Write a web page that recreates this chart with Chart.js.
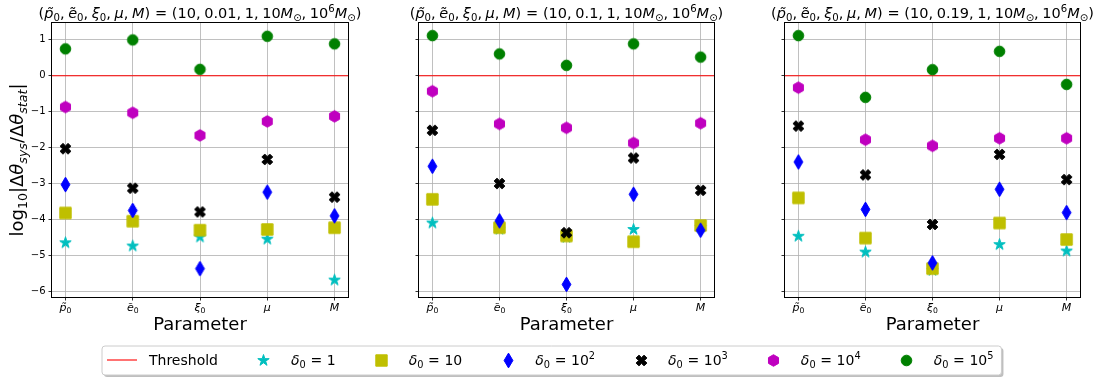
<!DOCTYPE html>
<html>
<head>
<meta charset="utf-8">
<script src="https://cdn.jsdelivr.net/npm/chart.js@4.4.1/dist/chart.umd.min.js"></script>
<style>
  html, body { margin: 0; padding: 0; background: #fff; }
  #wrap { position: relative; width: 1096px; height: 382px; overflow: hidden; background: #fff; }
  #wrap canvas { position: absolute; left: 0; top: 0; }
</style>
</head>
<body>
<div id="wrap">
  <canvas id="panel0" width="1096" height="382"></canvas>
  <canvas id="panel1" width="1096" height="382"></canvas>
  <canvas id="panel2" width="1096" height="382"></canvas>
  <canvas id="legend" width="1096" height="382"></canvas>
</div>
<script>
// ---- data ---------------------------------------------------------------
// Parameters on the x axis (symbol + subscript)
const PARAM_SYMBOLS = ['p\u0303', 'e\u0303', '\u03be', '\u03bc', 'M'];
const PARAM_SUBS = ['0', '0', '0', '', ''];
// Initial eccentricity of each panel
const E0_VALUES = [0.01, 0.1, 0.19];
const Y_TICKS = [-6, -5, -4, -3, -2, -1, 0, 1];
const THRESHOLD = 0;
const DELTA_EXPONENTS = [0, 1, 2, 3, 4, 5];

// log10 |dtheta_sys / dtheta_stat|; one row per panel, columns follow PARAM_SYMBOLS
const DELTA_1E0 = [
  [-4.65, -4.74, -4.49, -4.55, -5.69],
  [-4.10, -4.27, -4.50, -4.28, -4.22],
  [-4.47, -4.91, -5.42, -4.70, -4.88]
];
const DELTA_1E1 = [
  [-3.82, -4.05, -4.30, -4.28, -4.23],
  [-3.44, -4.23, -4.46, -4.62, -4.17],
  [-3.40, -4.52, -5.37, -4.10, -4.56]
];
const DELTA_1E2 = [
  [-3.03, -3.75, -5.37, -3.24, -3.90],
  [-2.52, -4.04, -5.81, -3.30, -4.30],
  [-2.40, -3.72, -5.21, -3.16, -3.81]
];
const DELTA_1E3 = [
  [-2.03, -3.13, -3.79, -2.33, -3.38],
  [-1.52, -3.00, -4.37, -2.29, -3.19],
  [-1.40, -2.76, -4.14, -2.19, -2.89]
];
const DELTA_1E4 = [
  [-0.87, -1.03, -1.66, -1.27, -1.13],
  [-0.43, -1.34, -1.45, -1.87, -1.32],
  [-0.33, -1.78, -1.95, -1.74, -1.74]
];
const DELTA_1E5 = [
  [0.75, 1.00, 0.18, 1.10, 0.89],
  [1.12, 0.61, 0.29, 0.89, 0.52],
  [1.12, -0.60, 0.17, 0.68, -0.24]
];

// ---- layout ---------------------------------------------------------------
const PANEL_X = [[52, 348], [419, 714], [785, 1080]];
const PANEL_TOP = 23, PANEL_BOTTOM = 297;
const X_MIN = -0.2, X_MAX = 4.2;
const Y_MIN = -6.16, Y_MAX = 1.47;
const FAMILY = '"DejaVu Sans", "Liberation Sans", sans-serif';

// ---- marker glyphs ---------------------------------------------------------
function markerCanvas(size, paint) {
  const c = document.createElement('canvas');
  c.width = size; c.height = size;
  const g = c.getContext('2d');
  g.translate(size / 2, size / 2);
  paint(g);
  return c;
}
function polygon(g, pts, color) {
  g.beginPath();
  pts.forEach(([x, y], i) => (i ? g.lineTo(x, y) : g.moveTo(x, y)));
  g.closePath();
  g.fillStyle = color; g.fill();
  g.lineWidth = 1; g.strokeStyle = color; g.lineJoin = 'miter'; g.stroke();
}
function starPts(R) {
  const r = R * 0.382, p = [];
  for (let i = 0; i < 10; i++) {
    const a = -Math.PI / 2 + i * Math.PI / 5, rr = i % 2 ? r : R;
    p.push([rr * Math.cos(a), rr * Math.sin(a)]);
  }
  return p;
}
function hexPts(R) {
  const p = [];
  for (let i = 0; i < 6; i++) {
    const a = -Math.PI / 2 + i * Math.PI / 3;
    p.push([R * Math.cos(a), R * Math.sin(a)]);
  }
  return p;
}
function xPts(a, t) {
  const plus = [[-t,-a],[t,-a],[t,-t],[a,-t],[a,t],[t,t],[t,a],[-t,a],[-t,t],[-a,t],[-a,-t],[-t,-t]];
  const c = Math.SQRT1_2;
  return plus.map(([x, y]) => [c * (x - y), c * (x + y)]);
}
const MARKERS = {
  star: color => markerCanvas(15, g => polygon(g, starPts(6.0), color)),
  square: color => markerCanvas(15, g => polygon(g, [[-5.7,-5.7],[5.7,-5.7],[5.7,5.7],[-5.7,5.7]], color)),
  thinDiamond: color => markerCanvas(17, g => polygon(g, [[0,-7.4],[4.4,0],[0,7.4],[-4.4,0]], color)),
  xFilled: color => markerCanvas(15, g => polygon(g, xPts(5.6, 2.0), color)),
  hexagon: color => markerCanvas(15, g => polygon(g, hexPts(5.8), color)),
  circle: color => markerCanvas(15, g => {
    g.beginPath(); g.arc(0, 0, 5.3, 0, Math.PI * 2);
    g.fillStyle = color; g.fill(); g.lineWidth = 1; g.strokeStyle = color; g.stroke();
  })
};

const SERIES = [
  { values: DELTA_1E0, color: '#00bfbf', marker: 'star' },
  { values: DELTA_1E1, color: '#bfbf00', marker: 'square' },
  { values: DELTA_1E2, color: '#0000ff', marker: 'thinDiamond' },
  { values: DELTA_1E3, color: '#000000', marker: 'xFilled' },
  { values: DELTA_1E4, color: '#bf00bf', marker: 'hexagon' },
  { values: DELTA_1E5, color: '#008000', marker: 'circle' }
].map((s, k) => Object.assign(s, { exponent: DELTA_EXPONENTS[k], glyph: MARKERS[s.marker](s.color) }));

// ---- math-style text -------------------------------------------------------
// segment kinds: r = upright, i = italic, sb = subscript, si = italic subscript, sp = superscript
function segFont(kind, size) {
  const small = kind === 'sb' || kind === 'si' || kind === 'sp';
  const it = kind === 'i' || kind === 'si';
  return (it ? 'italic ' : '') + (small ? size * 0.7 : size) + 'px ' + FAMILY;
}
function segShift(kind, size) {
  if (kind === 'sb' || kind === 'si') return size * 0.2;
  if (kind === 'sp') return -size * 0.4;
  return 0;
}
function richWidth(ctx, segs, size) {
  let w = 0;
  for (const [t, k] of segs) { ctx.font = segFont(k, size); w += ctx.measureText(t).width; }
  return w;
}
function drawRich(ctx, segs, x, y, size, align) {
  const w = richWidth(ctx, segs, size);
  let cx = align === 'center' ? x - w / 2 : align === 'right' ? x - w : x;
  ctx.save();
  ctx.fillStyle = '#000'; ctx.textAlign = 'left'; ctx.textBaseline = 'alphabetic';
  for (const [t, k] of segs) {
    ctx.font = segFont(k, size);
    ctx.fillText(t, cx, y + segShift(k, size));
    cx += ctx.measureText(t).width;
  }
  ctx.restore();
  return w;
}
function paramSegs(j) {
  const s = [[PARAM_SYMBOLS[j], 'i']];
  if (PARAM_SUBS[j]) s.push([PARAM_SUBS[j], 'sb']);
  return s;
}
function titleSegs(e0) {
  const s = [['(', 'r']];
  PARAM_SYMBOLS.forEach((_, j) => {
    if (j) s.push([',\u2005', 'r']);
    s.push(...paramSegs(j));
  });
  s.push([')\u2004=\u2004(10,\u2005' + e0 + ',\u20051,\u200510', 'r'], ['M', 'i'], ['\u2299', 'sb'],
         [',\u200510', 'r'], ['6', 'sp'], ['M', 'i'], ['\u2299', 'sb'], [')', 'r']);
  return s;
}
const Y_LABEL = [['log', 'r'], ['10', 'sb'], ['|\u0394', 'r'], ['\u03b8', 'i'], ['sys', 'si'],
                 ['/\u0394', 'r'], ['\u03b8', 'i'], ['stat', 'si'], ['|', 'r']];
const X_LABEL = [['Parameter', 'r']];
function deltaSegs(exp) {
  const s = [['\u03b4', 'i'], ['0', 'sb'], ['\u2004=\u2004' + (exp === 0 ? '1' : '10'), 'r']];
  if (exp > 1) s.push([String(exp), 'sp']);
  return s;
}
const minusFmt = v => (v < 0 ? '\u2212' + Math.abs(v) : String(v));

// ---- panels ----------------------------------------------------------------
function buildPanel(idx) {
  const [L, R] = PANEL_X[idx];
  const datasets = [{
    type: 'line', label: 'Threshold',
    data: [{ x: X_MIN, y: THRESHOLD }, { x: X_MAX, y: THRESHOLD }],
    borderColor: '#ff0000', borderWidth: 1.1, pointRadius: 0, showLine: true,
    order: SERIES.length + 1
  }];
  SERIES.forEach((s, k) => datasets.push({
    type: 'scatter',
    label: 'delta0 = 10^' + s.exponent,
    data: s.values[idx].map((v, i) => ({ x: i, y: v })),
    pointStyle: s.glyph, pointRadius: 6, pointHoverRadius: 6,
    backgroundColor: s.color, borderColor: s.color, showLine: false,
    order: SERIES.length - k
  }));

  const gridOpts = { color: '#b0b0b0', lineWidth: 0.8, tickLength: 3.5, tickColor: '#000', tickWidth: 0.8 };
  const decor = {
    id: 'panelDecor',
    afterDatasetsDraw(chart) {
      const { ctx, chartArea: a } = chart;
      ctx.save();
      ctx.strokeStyle = '#000'; ctx.lineWidth = 1;
      ctx.strokeRect(Math.round(a.left) - 0.5, Math.round(a.top) - 0.5,
                     Math.round(a.right - a.left) + 1, Math.round(a.bottom - a.top) + 1);
      ctx.restore();
    },
    afterDraw(chart) {
      const { ctx, chartArea: a } = chart;
      const xs = chart.scales.x;
      PARAM_SYMBOLS.forEach((_, j) => drawRich(ctx, paramSegs(j), xs.getPixelForValue(j), a.bottom + 13.5, 11, 'center'));
      const cx = (a.left + a.right) / 2;
      drawRich(ctx, X_LABEL, cx, 330, 18, 'center');
      drawRich(ctx, titleSegs(E0_VALUES[idx]), cx, 18, 14.5, 'center');
      if (idx === 0) {
        ctx.save();
        ctx.translate(23, (a.top + a.bottom) / 2);
        ctx.rotate(-Math.PI / 2);
        drawRich(ctx, Y_LABEL, 0, 0, 18, 'center');
        ctx.restore();
      }
    }
  };

  return new Chart(document.getElementById('panel' + idx), {
    type: 'scatter',
    data: { datasets },
    options: {
      responsive: false, animation: false, devicePixelRatio: 1, events: [],
      layout: { padding: { left: 0, right: 1096 - R, top: PANEL_TOP, bottom: 382 - PANEL_BOTTOM } },
      plugins: { legend: { display: false }, title: { display: false }, tooltip: { enabled: false } },
      scales: {
        x: {
          type: 'linear', min: X_MIN, max: X_MAX,
          afterBuildTicks: s => { s.ticks = PARAM_SYMBOLS.map((_, i) => ({ value: i })); },
          afterFit: s => { s.height = 0; },
          ticks: { display: false },
          grid: gridOpts, border: { display: false }
        },
        y: {
          type: 'linear', min: Y_MIN, max: Y_MAX,
          afterBuildTicks: s => { s.ticks = Y_TICKS.map(v => ({ value: v })); },
          afterFit: s => { s.width = L; },
          ticks: { display: idx === 0, callback: v => minusFmt(v), color: '#000',
                   font: { family: FAMILY, size: 10 }, padding: 3 },
          grid: gridOpts, border: { display: false }
        }
      }
    },
    plugins: [decor]
  });
}
[0, 1, 2].forEach(buildPanel);

// ---- shared legend ---------------------------------------------------------
(function drawLegend() {
  const ctx = document.getElementById('legend').getContext('2d');
  const cy = 360, base = 365, size = 14;
  const items = [{ kind: 'line', segs: [['Threshold', 'r']] }]
    .concat(SERIES.map(s => ({ kind: 'glyph', glyph: s.glyph, segs: deltaSegs(s.exponent) })));
  let x = 122;
  const placed = items.map(it => {
    const w = richWidth(ctx, it.segs, size);
    const p = { it, cx: x, tx: x + 27, w };
    x = p.tx + w + 46;
    return p;
  });
  const last = placed[placed.length - 1];
  const left = 102, top = 346, right = last.tx + last.w + 8, bottom = 375;
  const roundRect = (x0, y0, x1, y1, r) => {
    ctx.beginPath();
    ctx.moveTo(x0 + r, y0); ctx.lineTo(x1 - r, y0); ctx.quadraticCurveTo(x1, y0, x1, y0 + r);
    ctx.lineTo(x1, y1 - r); ctx.quadraticCurveTo(x1, y1, x1 - r, y1);
    ctx.lineTo(x0 + r, y1); ctx.quadraticCurveTo(x0, y1, x0, y1 - r);
    ctx.lineTo(x0, y0 + r); ctx.quadraticCurveTo(x0, y0, x0 + r, y0); ctx.closePath();
  };
  ctx.save();
  roundRect(left + 2, top + 2, right + 2, bottom + 2, 3);
  ctx.fillStyle = 'rgba(0,0,0,0.25)'; ctx.fill();
  roundRect(left, top, right, bottom, 3);
  ctx.fillStyle = '#fff'; ctx.fill();
  ctx.strokeStyle = '#cccccc'; ctx.lineWidth = 1; ctx.stroke();
  ctx.restore();
  placed.forEach(p => {
    if (p.it.kind === 'line') {
      ctx.save(); ctx.strokeStyle = '#ff0000'; ctx.lineWidth = 1.1;
      ctx.beginPath(); ctx.moveTo(p.cx - 15, cy); ctx.lineTo(p.cx + 15, cy); ctx.stroke(); ctx.restore();
    } else {
      const g = p.it.glyph;
      ctx.drawImage(g, Math.round(p.cx - g.width / 2), Math.round(cy - g.height / 2));
    }
    drawRich(ctx, p.it.segs, p.tx, base, size, 'left');
  });
})();
</script>
</body>
</html>
